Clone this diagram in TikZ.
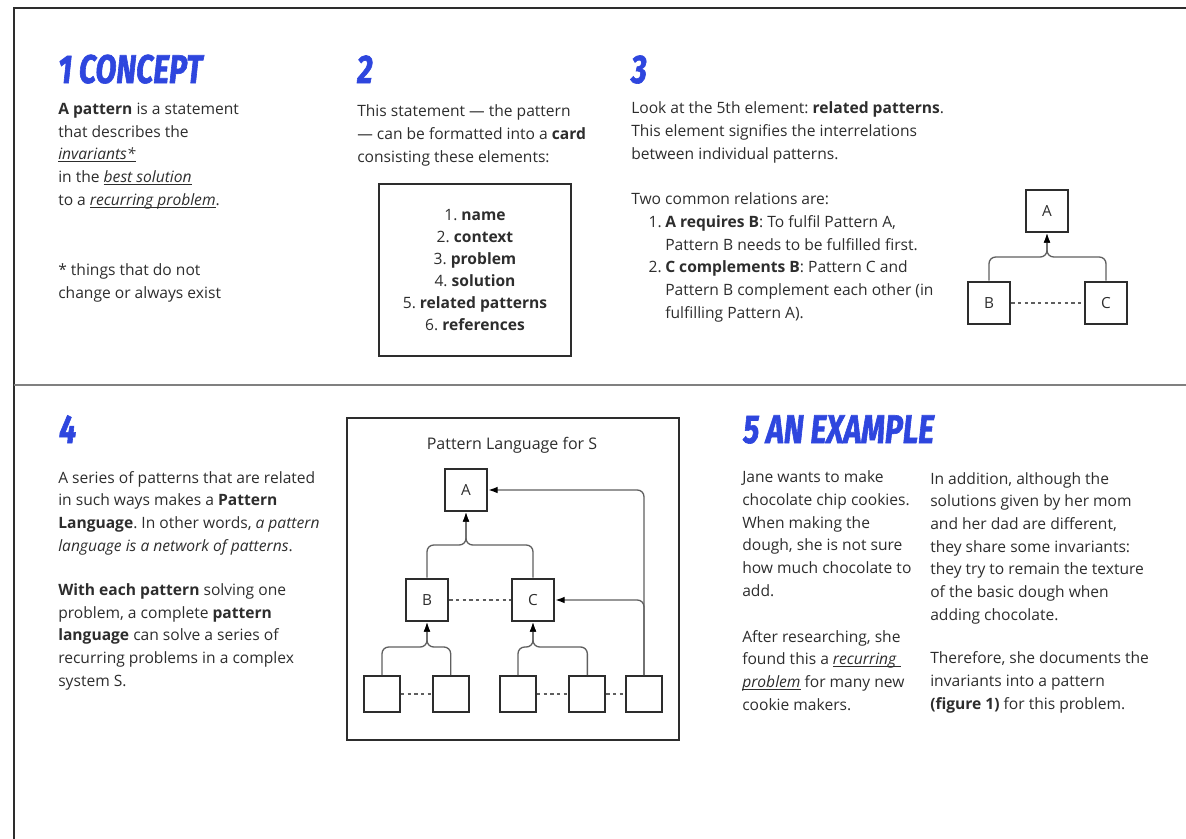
\documentclass[tikz,border=0pt]{standalone}
\usepackage{fontspec}
\setmainfont{Open Sans}
\newfontfamily\headfont[FakeStretch=0.76,FakeBold=1.5]{Fira Sans}
\usetikzlibrary{arrows.meta,positioning}
\definecolor{headblue}{RGB}{46,70,222}
\definecolor{textgray}{RGB}{45,45,45}
\definecolor{linegray}{RGB}{95,95,95}
\newsavebox\ulbox
\newcommand{\ulword}[1]{\sbox\ulbox{#1}\rlap{\rule[-1.8pt]{\wd\ulbox}{0.5pt}}\usebox\ulbox}
\frenchspacing

\begin{document}
\begin{tikzpicture}[x=0.75pt,y=-0.75pt,
      myhead/.style={
         anchor=base west,
         inner sep=0pt,
         text=headblue,
         font=\headfont\fontsize{30}{30}\selectfont\bfseries\itshape},
      mytext/.style={
         anchor=base west,
         align=left,
         inner sep=0pt,
         text=textgray,
         font=\fontsize{11.7}{17}\selectfont},
      mybox/.style={
         draw=textgray,
         line width=1.5pt,
         minimum size=32pt,
         inner sep=0pt,
         text=textgray,
         font=\fontsize{11.5}{12}\selectfont},
      smallbox/.style={mybox, minimum size=27pt},
      myline/.style={draw=linegray, line width=1pt, rounded corners=5pt},
      myarrow/.style={myline, -{Latex[length=7pt,width=5pt,black]}},
      mydash/.style={draw=linegray, line width=1pt, dash pattern=on 2.5pt off 2.5pt}
      ]
      \useasboundingbox (0,0) rectangle (1186,839);

      % frame and divider
      \draw[line width=1.5pt, textgray] (14,839) -- (14,8) -- (1186,8);
      \draw[line width=1pt, gray] (14,385) -- (1186,385);

      % 1 concept (text nodes sit on their last baseline)
      \node[myhead] (h1) at (58,83) {1 CONCEPT};
      \node[mytext] (t1a) at (58,205) {\textbf{A pattern} is a statement\\
        that describes the\\
        \ulword{\textit{invariants*}}\\
        in the \ulword{\textit{best solution}}\\
        to a \ulword{\textit{recurring problem}}.};
      \node[mytext] (t1b) at (58,298) {* things that do not\\ change or always exist};

      % 2 card
      \node[myhead] (h2) at (357,83) {2};
      \node[mytext] (t2) at (357,162) {This statement — the pattern\\
        — can be formatted into a \textbf{card}\\
        consisting these elements:};
      \node[mybox, minimum width=144pt, minimum height=129pt, align=center,
        font=\fontsize{11.7}{16.5}\selectfont] (card) at (475,270) {1. \textbf{name}\\
        2. \textbf{context}\\
        3. \textbf{problem}\\
        4. \textbf{solution}\\
        5. \textbf{related patterns}\\
        6. \textbf{references}};

      % 3 related patterns
      \node[myhead] (h3) at (631,83) {3};
      \node[mytext] (t3a) at (631,159) {Look at the 5th element: \textbf{related patterns}.\\
        This element signifies the interrelations\\
        between individual patterns.};
      \node[mytext] (t3b) at (631,318) {Two common relations are:\\
        \hspace*{13pt}\makebox[12.5pt][l]{1.}\textbf{A requires B}: To fulfil Pattern A,\\
        \hspace*{25.5pt}Pattern B needs to be fulfilled first.\\
        \hspace*{13pt}\makebox[12.5pt][l]{2.}\textbf{C complements B}: Pattern C and\\
        \hspace*{25.5pt}Pattern B complement each other (in\\
        \hspace*{25.5pt}fulfilling Pattern A).};

      \node[mybox] (a3) at (1047,211) {A};
      \node[mybox] (b3) at (989,303) {B};
      \node[mybox] (c3) at (1106,303) {C};
      \coordinate (j3) at (1047,257);
      \draw[myarrow] (b3.north) |- (j3) -- (a3.south);
      \draw[myarrow] (c3.north) |- (j3) -- (a3.south);
      \draw[mydash] (b3.east) -- (c3.west);

      % 4 pattern language
      \node[myhead] (h4) at (59,443) {4};
      \node[mytext] (t4a) at (58,551) {A series of patterns that are related\\
        in such ways makes a \textbf{Pattern}\\
        \textbf{Language}. In other words, \textit{a pattern}\\
        \textit{language is a network of patterns}.};
      \node[mytext] (t4b) at (58,686) {\textbf{With each pattern} solving one\\
        problem, a complete \textbf{pattern}\\
        \textbf{language} can solve a series of\\
        recurring problems in a complex\\
        system S.};

      \node[draw=textgray, line width=1.5pt, minimum width=249pt, minimum height=241.5pt,
        inner sep=0pt] (lang) at (513,579) {};
      \node[anchor=base, text=textgray, font=\fontsize{12}{12}\selectfont] (ltitle) at (512,449)
        {Pattern Language for S};

      \node[mybox] (a4) at (466,490) {A};
      \node[mybox] (b4) at (427,600) {B};
      \node[mybox, right=46pt of b4] (c4) {C};
      \node[smallbox] (s1) at (382,694) {};
      \node[smallbox, right=23pt of s1] (s2) {};
      \node[smallbox] (s3) at (518,694) {};
      \node[smallbox, right=23.5pt of s3] (s4) {};
      \node[smallbox, right=14pt of s4] (s5) {};

      \coordinate (ja) at (466,545);
      \coordinate (jb) at (427,647);
      \coordinate (jc) at (533,647);
      \draw[myarrow] (b4.north) |- (ja) -- (a4.south);
      \draw[myarrow] (c4.north) |- (ja) -- (a4.south);
      \draw[myarrow] (s1.north) |- (jb) -- (b4.south);
      \draw[myarrow] (s2.north) |- (jb) -- (b4.south);
      \draw[myarrow] (s3.north) |- (jc) -- (c4.south);
      \draw[myarrow] (s4.north) |- (jc) -- (c4.south);
      \draw[myarrow] (s5.north) |- (a4.east);
      \draw[myarrow] (s5.north) |- (c4.east);
      \draw[mydash] (b4.east) -- (c4.west);
      \draw[mydash] (s1.east) -- (s2.west);
      \draw[mydash] (s3.east) -- (s4.west);
      \draw[mydash] (s4.east) -- (s5.west);

      % 5 example
      \node[myhead] (h5) at (743,443) {5 AN EXAMPLE};
      \node[mytext] (t5a) at (742,596) {Jane wants to make\\
        chocolate chip cookies.\\
        When making the\\
        dough, she is not sure\\
        how much chocolate to\\
        add.};
      \node[mytext] (t5b) at (742,710) {After researching, she\\
        found this a \ulword{\textit{recurring }}\\
        \ulword{\textit{problem}} for many new\\
        cookie makers.};
      \node[mytext] (t5c) at (930,620) {In addition, although the\\
        solutions given by her mom\\
        and her dad are different,\\
        they share some invariants:\\
        they try to remain the texture\\
        of the basic dough when\\
        adding chocolate.};
      \node[mytext] (t5d) at (930,709) {Therefore, she documents the\\
        invariants into a pattern\\
        \textbf{(figure 1)} for this problem.};
\end{tikzpicture}
\end{document}
